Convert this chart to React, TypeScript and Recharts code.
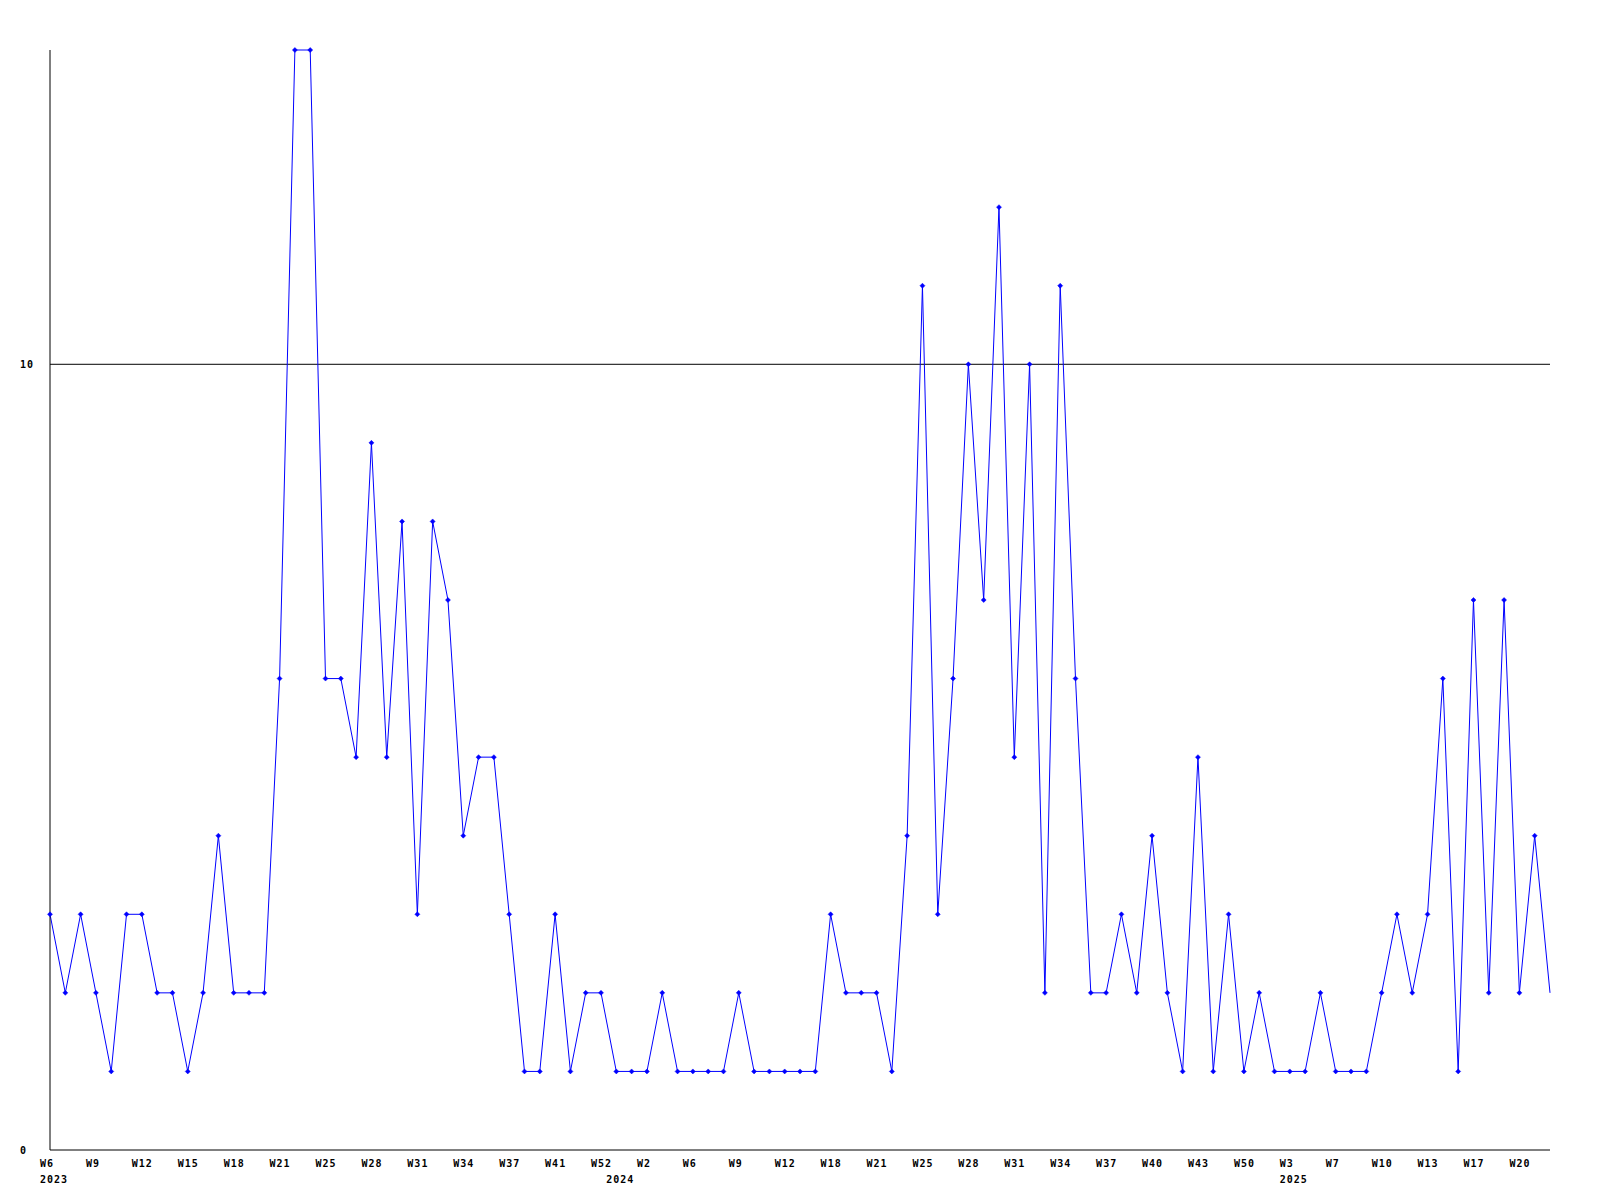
import { LineChart, Line, XAxis, YAxis, ReferenceLine } from "recharts"

// weekly counts, Feb 2023 -> May 2025
const counts = [
  3, 2, 3, 2, 1, 3, 3, 2, 2, 1, 2, 4, 2, 2, 2, 6, 14, 14, 6, 6,
  5, 9, 5, 8, 3, 8, 7, 4, 5, 5, 3, 1, 1, 3, 1, 2, 2, 1, 1, 1,
  2, 1, 1, 1, 1, 2, 1, 1, 1, 1, 1, 3, 2, 2, 2, 1, 4, 11, 3, 6,
  10, 7, 12, 5, 10, 2, 11, 6, 2, 2, 3, 2, 4, 2, 1, 5, 1, 3, 1, 2,
  1, 1, 1, 2, 1, 1, 1, 2, 3, 2, 3, 6, 1, 7, 2, 7, 2, 4, 2,
]

// every third point gets a week label
const weekTicks = [
  "W6", "W9", "W12", "W15", "W18", "W21", "W25", "W28", "W31", "W34", "W37",
  "W41", "W52", "W2", "W6", "W9", "W12", "W18", "W21", "W25", "W28", "W31",
  "W34", "W37", "W40", "W43", "W50", "W3", "W7", "W10", "W13", "W17", "W20",
]

// point index where each year starts
const yearStarts = [0, 37, 81]
const years = ["2023", "2024", "2025"]

const yTicks = [0, 10]
const gridValue = 10

const data = counts.map((v, i) => ({ idx: i, value: v }))

const FONT = "'DejaVu Sans Mono', monospace"

const WeekTick = (props: any) => {
  const { x, y, payload } = props
  const i = payload.value as number
  const yr = yearStarts.indexOf(i)
  return (
    <g>
      {i % 3 === 0 && (
        <text x={x - 10} y={y + 17} textAnchor="start" fontFamily={FONT} fontWeight="bold" fontSize={10} letterSpacing={1} fill="#000">
          {weekTicks[i / 3]}
        </text>
      )}
      {yr >= 0 && (
        <text x={x - 10} y={y + 33} textAnchor="start" fontFamily={FONT} fontWeight="bold" fontSize={10} letterSpacing={1} fill="#000">
          {years[yr]}
        </text>
      )}
    </g>
  )
}

const ValueTick = (props: any) => {
  const { y, payload } = props
  return (
    <text x={20} y={y + 4} textAnchor="start" fontFamily={FONT} fontWeight="bold" fontSize={10} letterSpacing={1} fill="#000">
      {payload.value}
    </text>
  )
}

const Marker = (props: any) => {
  const { cx, cy, index } = props
  if (index === counts.length - 1) return <g key={index} />
  return (
    <path
      key={index}
      d={`M${cx - 2.5},${cy} L${cx},${cy - 2.5} L${cx + 2.5},${cy} L${cx},${cy + 2.5} Z`}
      fill="#0000ff"
      stroke="#0000ff"
      strokeWidth={0.5}
    />
  )
}

export default function App() {
  return (
    <div style={{ position: "absolute", left: 0, top: 0, width: 1600, height: 1200, background: "#fff" }}>
      <LineChart width={1600} height={1200} data={data} margin={{ top: 50, right: 50, left: 20, bottom: 0 }}>
        <XAxis
          dataKey="idx"
          type="category"
          scale="point"
          interval={0}
          height={50}
          tickSize={0}
          tickMargin={0}
          tickLine={false}
          axisLine={{ stroke: "#000" }}
          tick={<WeekTick />}
        />
        <YAxis
          domain={[0, 14]}
          ticks={yTicks}
          width={30}
          tickSize={0}
          tickLine={false}
          axisLine={{ stroke: "#000" }}
          tick={<ValueTick />}
        />
        <ReferenceLine y={gridValue} stroke="#000" strokeWidth={1} />
        <Line
          type="linear"
          dataKey="value"
          stroke="#0000ff"
          strokeWidth={1}
          dot={<Marker />}
          activeDot={false}
          isAnimationActive={false}
        />
      </LineChart>
    </div>
  )
}
